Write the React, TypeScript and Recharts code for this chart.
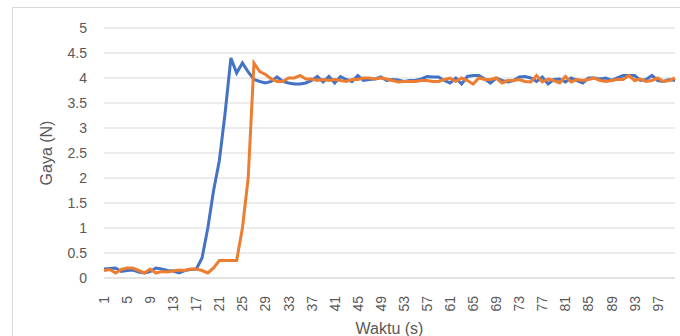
import React from "react";
import { LineChart, Line, XAxis, YAxis, CartesianGrid } from "recharts";

const waktu: number[] = Array.from({ length: 100 }, (_, i) => i + 1);

const gayaBiru: number[] = [
  0.18, 0.19, 0.2, 0.13, 0.15, 0.16, 0.12, 0.1, 0.13, 0.2,
  0.18, 0.15, 0.14, 0.1, 0.15, 0.17, 0.18, 0.4, 1.0, 1.75,
  2.35, 3.3, 4.4, 4.1, 4.3, 4.12, 3.97, 3.93, 3.9, 3.93,
  4.02, 3.93, 3.9, 3.88, 3.88, 3.9, 3.95, 4.03, 3.92, 4.03,
  3.9, 4.03, 3.97, 3.93, 4.05, 3.95, 3.97, 3.98, 4.02, 3.95,
  3.97, 3.96, 3.93, 3.95, 3.95, 3.98, 4.03, 4.02, 4.02, 3.95,
  3.9, 4.0, 3.88, 4.03, 4.05, 4.05, 3.98, 3.9, 4.0, 3.95,
  3.92, 3.95, 4.02, 4.03, 4.0, 3.93, 4.02, 3.88, 3.97, 3.98,
  3.92, 4.0, 3.95, 3.9, 4.0, 4.0, 3.98, 4.0, 3.95, 4.0,
  4.05, 4.05, 4.05, 3.95, 3.97, 4.05, 3.95, 3.93, 3.97, 3.95,
];

const gayaOranye: number[] = [
  0.15, 0.17, 0.1, 0.17, 0.2, 0.2, 0.15, 0.1, 0.18, 0.1,
  0.13, 0.12, 0.14, 0.16, 0.15, 0.18, 0.18, 0.15, 0.1, 0.2,
  0.35, 0.35, 0.35, 0.35, 1.0, 2.0, 4.3, 4.13, 4.07, 3.98,
  3.93, 3.93, 4.0, 4.0, 4.05, 3.98, 3.98, 3.95, 3.97, 3.95,
  3.97, 3.95, 3.93, 3.97, 3.97, 4.0, 4.0, 3.98, 4.0, 3.98,
  3.95, 3.92, 3.93, 3.93, 3.93, 3.95, 3.95, 3.93, 3.93, 3.97,
  4.0, 3.93, 4.0, 3.95, 3.88, 4.0, 3.97, 3.97, 4.0, 3.9,
  3.95, 3.95, 3.97, 3.93, 3.92, 4.05, 3.92, 3.98, 3.95, 3.9,
  4.03, 3.92, 3.97, 3.95, 3.97, 4.0, 3.95, 3.93, 3.95, 3.97,
  3.97, 4.05, 3.95, 3.98, 3.93, 3.95, 4.0, 3.93, 3.95, 4.0,
];

const yTicks: number[] = [0, 0.5, 1, 1.5, 2, 2.5, 3, 3.5, 4, 4.5, 5];

const data = waktu.map((w, i) => ({ w, a: gayaBiru[i], b: gayaOranye[i] }));

const FONT = "'Liberation Sans', Arial, sans-serif";
const TXT = "#595959";

const XTick = (props: any) => {
  const { x, y, payload } = props;
  return (
    <text
      transform={`translate(${x},${y + 10}) rotate(-90)`}
      textAnchor="end"
      dominantBaseline="central"
      fontSize={14}
      fontFamily={FONT}
      fill={TXT}
    >
      {payload.value}
    </text>
  );
};

export default function App() {
  return (
    <div style={{ position: "absolute", left: 0, top: 0, width: 680, height: 336, background: "#fff", overflow: "hidden" }}>
      <div
        style={{
          position: "absolute",
          left: 12,
          top: 7,
          width: 700,
          height: 360,
          border: "1px solid #d9d9d9",
          boxSizing: "border-box",
        }}
      />
      <div style={{ position: "absolute", left: 0, top: 0 }}>
        <LineChart
          width={680}
          height={336}
          data={data}
          margin={{ top: 28, right: 5, bottom: 0, left: 20 }}
        >
          <CartesianGrid vertical={false} stroke="#d9d9d9" strokeWidth={1} />
          <XAxis
            dataKey="w"
            interval={3}
            tick={<XTick />}
            tickLine={false}
            axisLine={{ stroke: "#d9d9d9" }}
            height={58}
            label={{
              value: "Waktu (s)",
              position: "insideBottom",
              offset: 2,
              fontSize: 16,
              fontFamily: FONT,
              fill: TXT,
            }}
          />
          <YAxis
            domain={[0, 5]}
            ticks={yTicks}
            interval={0}
            width={84}
            tickLine={false}
            axisLine={false}
            tickSize={0}
            tickMargin={17}
            tick={{ fontSize: 14, fontFamily: FONT, fill: TXT }}
            label={{
              value: "Gaya (N)",
              angle: -90,
              position: "insideLeft",
              offset: 26,
              fontSize: 16,
              fontFamily: FONT,
              fill: TXT,
              style: { textAnchor: "middle" },
            }}
          />
          <Line
            type="linear"
            dataKey="a"
            stroke="#4472C4"
            strokeWidth={3}
            dot={false}
            isAnimationActive={false}
          />
          <Line
            type="linear"
            dataKey="b"
            stroke="#ED7D31"
            strokeWidth={3}
            dot={false}
            isAnimationActive={false}
          />
        </LineChart>
      </div>
    </div>
  );
}
